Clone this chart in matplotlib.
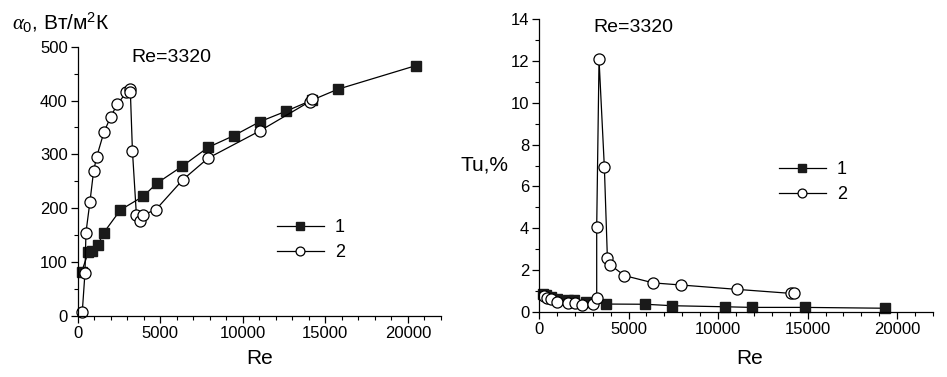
import matplotlib
matplotlib.use("Agg")
import matplotlib.pyplot as plt
from matplotlib.ticker import MultipleLocator

plt.rcParams['font.family'] = ['Liberation Sans', 'DejaVu Sans']
plt.rcParams['mathtext.fontset'] = 'custom'
plt.rcParams['mathtext.rm'] = 'Liberation Sans'
plt.rcParams['mathtext.it'] = 'Liberation Serif:italic'

# Left panel: alpha0 vs Re
re_a1 = [250, 650, 855, 1217, 1596, 2600, 3966, 4829, 6335, 7900, 9468, 11054, 12600, 14207, 15753, 20494]
alpha_1 = [82, 118, 121, 131, 155, 197, 222, 247, 278, 313, 335, 361, 380, 401, 421, 465]
re_a2 = [290, 452, 512, 753, 974, 1155, 1596, 1998, 2400, 2960, 3183, 3200, 3324, 3564, 3785, 3966, 4729, 6375, 7900, 11054, 14048, 14207]
alpha_2 = [8, 80, 155, 212, 269, 295, 341, 369, 393, 415, 421, 416, 307, 188, 177, 188, 197, 253, 293, 344, 398, 403]

# Right panel: Tu vs Re
re_t1 = [241, 391, 670, 989, 1638, 1974, 2607, 3724, 5940, 7449, 10372, 11881, 14825, 19293]
tu_1 = [0.86, 0.81, 0.70, 0.60, 0.57, 0.57, 0.49, 0.38, 0.37, 0.30, 0.25, 0.22, 0.22, 0.18]
re_t2 = [290, 450, 650, 1000, 1600, 2000, 2400, 3000, 3222, 3222, 3352, 3650, 3818, 3985, 4767, 6387, 7933, 11080, 14060, 14246]
tu_2 = [0.75, 0.68, 0.60, 0.50, 0.45, 0.42, 0.35, 0.40, 0.68, 4.08, 12.07, 6.91, 2.60, 2.25, 1.74, 1.39, 1.29, 1.08, 0.89, 0.91]

series_labels = ['1', '2']

W, H = 947, 377
fig = plt.figure(figsize=(W / 100, H / 100), dpi=100)

def box(x0, x1, y0, y1):
    return [x0 / W, 1 - y1 / H, (x1 - x0) / W, (y1 - y0) / H]

ax1 = fig.add_axes(box(77.5, 441, 46.7, 316))
ax2 = fig.add_axes(box(539, 933, 19, 312))

sq = dict(color='black', lw=0.9, marker='s', markersize=7, markerfacecolor='#1a1a1a',
          markeredgecolor='#1a1a1a')
ci = dict(color='black', lw=0.9, marker='o', markersize=8, markerfacecolor='white',
          markeredgecolor='black', markeredgewidth=0.9)

ax1.plot(re_a1, alpha_1, label=series_labels[0], **sq)
ax1.plot(re_a2, alpha_2, label=series_labels[1], **ci)
ax2.plot(re_t1, tu_1, label=series_labels[0], **sq)
ax2.plot(re_t2, tu_2, label=series_labels[1], **ci)

for ax in (ax1, ax2):
    for s in ('top', 'right'):
        ax.spines[s].set_visible(False)
    for s in ('left', 'bottom'):
        ax.spines[s].set_linewidth(0.9)
    ax.set_xlim(0, 22000)
    ax.xaxis.set_major_locator(MultipleLocator(5000))
    ax.xaxis.set_minor_locator(MultipleLocator(1000))
    ax.tick_params(which='major', direction='out', length=5, width=0.9, labelsize=12, pad=2)
    ax.tick_params(which='minor', direction='out', length=3, width=0.8)
    ax.patch.set_alpha(0)
    for sp in ax.spines.values():
        sp.set_clip_on(False)

ax1.set_ylim(0, 500)
ax1.yaxis.set_major_locator(MultipleLocator(100))
ax1.yaxis.set_minor_locator(MultipleLocator(50))
ax2.set_ylim(0, 14)
ax2.yaxis.set_major_locator(MultipleLocator(2))
ax2.yaxis.set_minor_locator(MultipleLocator(1))

for ax in (ax1, ax2):
    for ln in ax.lines:
        ln.set_clip_on(False)

ax1.text(3280, 480, 'Re=3320', fontsize=14, va='center', ha='left')
ax2.text(3017, 13.6, 'Re=3320', fontsize=14, va='center', ha='left')

leg_kw = dict(frameon=False, fontsize=13, handlelength=2.6, handletextpad=0.6,
              labelspacing=0.45, borderpad=0, borderaxespad=0, markerscale=0.8)
ax1.legend(loc='upper left', bbox_to_anchor=((277 - 77.5) / (441 - 77.5), (316 - 219) / (316 - 46.7)), **leg_kw)
ax2.legend(loc='upper left', bbox_to_anchor=((779 - 539) / (933 - 539), (312 - 161) / (312 - 19)), **leg_kw)

fig.text(260 / W, 1 - 359 / H, 'Re', fontsize=15, ha='center', va='center')
fig.text(750 / W, 1 - 359 / H, 'Re', fontsize=15, ha='center', va='center')
fig.text(12 / W, 1 - 30 / H, r'$\alpha_{0}$, Вт/м$^2$К', fontsize=15, ha='left', va='baseline')
fig.text(460 / W, 1 - 165 / H, 'Tu,%', fontsize=15, ha='left', va='center')

fig.savefig('out.png', dpi=100)
